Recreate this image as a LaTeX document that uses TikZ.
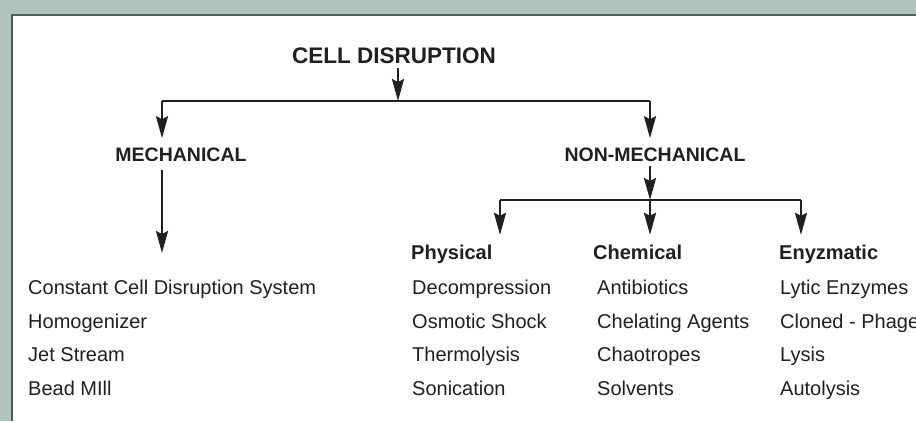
\documentclass[tikz,border=0pt]{standalone}
\usepackage{fontspec}
\setmainfont{Liberation Sans}
\usetikzlibrary{arrows.meta}
\definecolor{panelbg}{HTML}{AFC4BE}
\definecolor{ink}{HTML}{231F20}

\begin{document}
\begin{tikzpicture}[x=1pt,y=-1pt,color=ink,
	arr/.style={line width=2.3pt,-{Stealth[length=22pt,width=12pt,inset=3pt]}},
	ln/.style={line width=2.3pt},
	title/.style={font=\bfseries\fontsize{22.5}{26}\selectfont,inner xsep=0pt,inner ysep=5pt,anchor=base},
	head/.style={font=\bfseries\fontsize{19.5}{23}\selectfont,inner xsep=0pt,inner ysep=9pt,anchor=base},
	sub/.style={font=\bfseries\fontsize{20}{24}\selectfont,inner xsep=0pt,inner ysep=9.5pt,anchor=base west},
	item/.style={font=\fontsize{20}{24}\selectfont,inner sep=0pt,anchor=base west}]
	\useasboundingbox (0,0) rectangle (916,421);
	\clip (0,0) rectangle (916,421);
	% panel
	\fill[panelbg] (0,0) rectangle (916,421);
	\fill[white] (12,15) rectangle (916,421);
	\draw[black!65,line width=1.2pt] (12,421) -- (12,15) -- (916,15);

	% headings
	\node[title] (cell) at (394,63) {CELL DISRUPTION};
	\node[head] (mech) at (181,161) {MECHANICAL};
	\node[head] (nonmech) at (655,161) {NON-MECHANICAL};
	\node[sub] (phys) at (411,259) {Physical};
	\node[sub] (chem) at (593,259) {Chemical};
	\node[sub] (enz) at (779,259) {Enyzmatic};

	% lists
	\foreach \t [count=\i] in {Constant Cell Disruption System,Homogenizer,Jet Stream,Bead MIll}
		\node[item] (mech\i) at (28,{261.5+33.4*\i}) {\t};
	\foreach \t [count=\i] in {Decompression,Osmotic Shock,Thermolysis,Sonication}
		\node[item] (phys\i) at (412,{261.5+33.4*\i}) {\t};
	\foreach \t [count=\i] in {Antibiotics,Chelating Agents,Chaotropes,Solvents}
		\node[item] (chem\i) at (597,{261.5+33.4*\i}) {\t};
	\foreach \t [count=\i] in {Lytic Enzymes,Cloned - Phage,Lysis,Autolysis}
		\node[item] (enz\i) at (780,{261.5+33.4*\i}) {\t};

	% connectors
	\coordinate (top) at (398,101);
	\coordinate (left) at (162,101);
	\coordinate (right) at (650,101);
	\coordinate (mechend) at (162,253);
	\coordinate (mid) at (650,200);
	\coordinate (west) at (500,200);
	\coordinate (east) at (801,200);
	\draw[arr] (cell.south -| top) -- (top);
	\draw[ln] (left) -- (right);
	\draw[arr] (left) -- (mech.north -| left);
	\draw[arr] (right) -- (nonmech.north -| right);
	\draw[arr] (mech.south -| left) -- (mechend);
	\draw[arr,shorten <=-4pt] (nonmech.south -| mid) -- (mid);
	\draw[ln] (west) -- (east);
	\draw[arr] (west) -- (phys.north -| west);
	\draw[arr] (mid) -- (chem.north -| mid);
	\draw[arr] (east) -- (enz.north -| east);
\end{tikzpicture}
\end{document}
